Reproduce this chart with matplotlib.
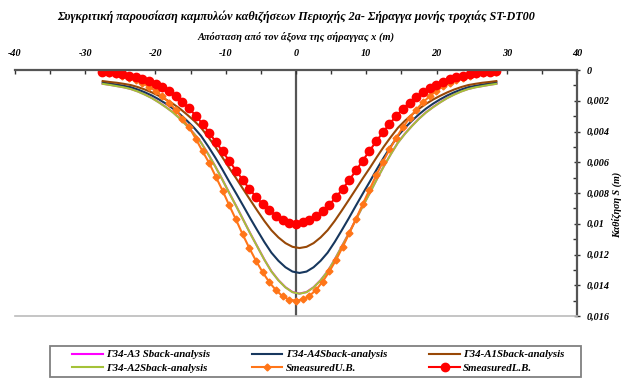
import matplotlib
matplotlib.use('Agg')
import matplotlib.pyplot as plt
from matplotlib.ticker import MultipleLocator, FixedLocator, FixedFormatter
from matplotlib.font_manager import FontProperties
from matplotlib.patches import Rectangle

plt.rcParams['axes.unicode_minus'] = False

# measured points (x in m, settlement in mm)
x_meas = [-27.55, -26.60, -25.65, -24.70, -23.75, -22.80, -21.85, -20.90, -19.95, -19.00,
          -18.05, -17.10, -16.15, -15.20, -14.25, -13.30, -12.35, -11.40, -10.45, -9.50,
          -8.55, -7.60, -6.65, -5.70, -4.75, -3.80, -2.85, -1.90, -0.95, 0.0,
          0.95, 1.90, 2.85, 3.80, 4.75, 5.70, 6.65, 7.60, 8.55, 9.50,
          10.45, 11.40, 12.35, 13.30, 14.25, 15.20, 16.15, 17.10, 18.05, 19.00,
          19.95, 20.90, 21.85, 22.80, 23.75, 24.70, 25.65, 26.60, 27.55, 28.50]

s_lb = [0.11, 0.15, 0.20, 0.27, 0.36, 0.46, 0.58, 0.73, 0.90, 1.12,
        1.39, 1.71, 2.09, 2.50, 2.98, 3.50, 4.08, 4.68, 5.30, 5.90,
        6.54, 7.13, 7.73, 8.24, 8.72, 9.13, 9.47, 9.75, 9.92, 10.00,
        9.90, 9.74, 9.50, 9.18, 8.76, 8.26, 7.73, 7.14, 6.53, 5.89,
        5.26, 4.65, 4.06, 3.50, 3.00, 2.52, 2.12, 1.76, 1.44, 1.17,
        0.95, 0.76, 0.60, 0.47, 0.37, 0.28, 0.21, 0.15, 0.10, 0.07]

s_ub = [0.16, 0.22, 0.29, 0.39, 0.51, 0.66, 0.85, 1.08, 1.37, 1.72,
        2.12, 2.60, 3.18, 3.72, 4.48, 5.28, 6.05, 6.95, 7.84, 8.80,
        9.72, 10.68, 11.57, 12.40, 13.15, 13.80, 14.32, 14.72, 14.94, 15.00,
        14.92, 14.70, 14.30, 13.76, 13.10, 12.35, 11.50, 10.60, 9.66, 8.72,
        7.78, 6.86, 5.98, 5.17, 4.41, 3.73, 3.12, 2.58, 2.11, 1.71,
        1.36, 1.07, 0.84, 0.65, 0.50, 0.38, 0.28, 0.21, 0.15, 0.11]

# back-analysis curves (x in m, settlement in mm)
x_calc = [-27.5, -26.5, -25.5, -24.5, -23.5, -22.5, -21.5, -20.5, -19.5, -18.5,
          -17.5, -16.5, -15.5, -14.5, -13.5, -12.5, -11.5, -10.5, -9.5, -8.5,
          -7.5, -6.5, -5.5, -4.5, -3.5, -2.5, -1.5, -0.5, 0.5,
          1.5, 2.5, 3.5, 4.5, 5.5, 6.5, 7.5, 8.5, 9.5, 10.5,
          11.5, 12.5, 13.5, 14.5, 15.5, 16.5, 17.5, 18.5, 19.5, 20.5,
          21.5, 22.5, 23.5, 24.5, 25.5, 26.5, 27.5, 28.5]

s_a1 = [0.72, 0.78, 0.83, 0.90, 0.98, 1.11, 1.27, 1.46, 1.68, 1.92,
        2.20, 2.52, 2.90, 3.30, 3.76, 4.35, 4.98, 5.66, 6.37, 7.05,
        7.76, 8.46, 9.15, 9.82, 10.42, 10.89, 11.26, 11.50, 11.58,
        11.50, 11.26, 10.89, 10.42, 9.82, 9.15, 8.46, 7.76, 7.05, 6.37,
        5.66, 4.98, 4.35, 3.76, 3.30, 2.90, 2.52, 2.20, 1.92, 1.68,
        1.46, 1.27, 1.11, 0.98, 0.90, 0.83, 0.78, 0.72]

s_a4 = [0.82, 0.88, 0.95, 1.03, 1.12, 1.27, 1.45, 1.66, 1.91, 2.19,
        2.51, 2.88, 3.30, 3.76, 4.29, 4.96, 5.68, 6.45, 7.26, 8.04,
        8.84, 9.65, 10.43, 11.19, 11.88, 12.41, 12.83, 13.11, 13.20,
        13.11, 12.83, 12.41, 11.88, 11.19, 10.43, 9.65, 8.84, 8.04, 7.26,
        6.45, 5.68, 4.96, 4.29, 3.76, 3.30, 2.88, 2.51, 2.19, 1.91,
        1.66, 1.45, 1.27, 1.12, 1.03, 0.95, 0.88, 0.82]

s_a2 = [0.90, 0.97, 1.05, 1.13, 1.24, 1.40, 1.60, 1.83, 2.11, 2.42,
        2.76, 3.17, 3.64, 4.15, 4.73, 5.47, 6.26, 7.11, 8.00, 8.86,
        9.75, 10.64, 11.49, 12.34, 13.10, 13.68, 14.14, 14.45, 14.55,
        14.45, 14.14, 13.68, 13.10, 12.34, 11.49, 10.64, 9.75, 8.86, 8.00,
        7.11, 6.26, 5.47, 4.73, 4.15, 3.64, 3.17, 2.76, 2.42, 2.11,
        1.83, 1.60, 1.40, 1.24, 1.13, 1.05, 0.97, 0.90]

# A3 sits right under A2 in the chart
s_a3 = [0.89, 0.96, 1.04, 1.12, 1.23, 1.39, 1.59, 1.82, 2.10, 2.41,
        2.75, 3.16, 3.63, 4.14, 4.72, 5.46, 6.25, 7.10, 7.99, 8.85,
        9.74, 10.63, 11.48, 12.33, 13.09, 13.67, 14.13, 14.44, 14.54,
        14.44, 14.13, 13.67, 13.09, 12.33, 11.48, 10.63, 9.74, 8.85, 7.99,
        7.10, 6.25, 5.46, 4.72, 4.14, 3.63, 3.16, 2.75, 2.41, 2.10,
        1.82, 1.59, 1.39, 1.23, 1.12, 1.04, 0.96, 0.89]

y_ticks = [0, 0.002, 0.004, 0.006, 0.008, 0.010, 0.012, 0.014, 0.016]
y_ticklabels = ['0', '0,002', '0,004', '0,006', '0,008', '0,01', '0,012', '0,014', '0,016']
x_ticks = [-40, -30, -20, -10, 0, 10, 20, 30, 40]

title = 'Συγκριτική παρουσίαση καμπυλών καθιζήσεων Περιοχής 2a- Σήραγγα μονής τροχιάς ST-DT00'
xlabel = 'Απόσταση από τον άξονα της σήραγγας x (m)'
ylabel = 'Καθίζηση S (m)'

def m(vals):
    return [v / 1000 for v in vals]

font = dict(family='Liberation Serif', weight='bold', style='italic')

fig = plt.figure(figsize=(6.23, 3.78), dpi=100)
ax = fig.add_axes([14.8/623, 1 - 316/378, 562.4/623, 246/378])

l3, = ax.plot(x_calc, m(s_a3), color='#FF00FF', lw=1.5, label='Γ34-A3 Sback-analysis')
l4, = ax.plot(x_calc, m(s_a4), color='#17375E', lw=1.5, label='Γ34-A4Sback-analysis')
l1, = ax.plot(x_calc, m(s_a1), color='#984807', lw=1.5, label='Γ34-A1Sback-analysis')
l2, = ax.plot(x_calc, m(s_a2), color='#A4C238', lw=1.5, label='Γ34-A2Sback-analysis')
lu, = ax.plot(x_meas, m(s_ub), color='#FF7518', lw=1.5, marker='D', ms=3.5,
              label='SmeasuredU.B.')
ll, = ax.plot(x_meas, m(s_lb), color='#FF0000', lw=1.5, marker='o', ms=6,
              label='SmeasuredL.B.')

ax.axvline(0, color='#555555', lw=1.6, zorder=1)

ax.set_xlim(-40, 40)
ax.set_ylim(0.016, 0)
ax.xaxis.tick_top()
ax.yaxis.tick_right()
ax.set_xticks(x_ticks)
ax.xaxis.set_minor_locator(MultipleLocator(5))
ax.yaxis.set_major_locator(FixedLocator(y_ticks))
ax.yaxis.set_major_formatter(FixedFormatter(y_ticklabels))
ax.yaxis.set_minor_locator(MultipleLocator(0.001))
ax.tick_params(axis='x', which='both', direction='in', length=3, width=1, color='#333333', pad=9)
ax.tick_params(axis='y', which='major', direction='inout', length=5, width=1, color='#333333', pad=4)
ax.tick_params(axis='y', which='minor', direction='in', length=3, width=1, color='#333333')
for lab in ax.get_xticklabels() + ax.get_yticklabels():
    lab.set_fontproperties(FontProperties(size=7.3, **font))

ax.spines['left'].set_visible(False)
ax.spines['top'].set_color('#555555')
ax.spines['top'].set_linewidth(1.6)
ax.spines['right'].set_color('#555555')
ax.spines['right'].set_linewidth(1.6)
ax.spines['bottom'].set_color('#BBBBBB')
ax.spines['bottom'].set_linewidth(1.2)

fig.text(296/623, 1 - 17/378, title, ha='center', va='center', size=8.7, **font)
fig.text(296/623, 1 - 37/378, xlabel, ha='center', va='center', size=7.5, **font)
fig.text(617/623, 1 - 205/378, ylabel, ha='center', va='center', rotation=90, size=7.3, **font)

# legend box drawn by hand, entries placed inside it
fig.patches.append(Rectangle((50/623, 1/378), 531/623, 31/378, transform=fig.transFigure,
                             fill=False, edgecolor='#808080', lw=1.3))
handles = [l3, l2, l4, lu, l1, ll]
leg = fig.legend(handles, [h.get_label() for h in handles],
                 ncol=3, loc='lower left', bbox_to_anchor=(70/623, 3/378),
                 prop=FontProperties(size=7.8, **font), frameon=False,
                 handlelength=2.8, handletextpad=0.3, columnspacing=3.9,
                 labelspacing=0.35, borderpad=0.2, borderaxespad=0)

fig.savefig('out.png', dpi=100)
